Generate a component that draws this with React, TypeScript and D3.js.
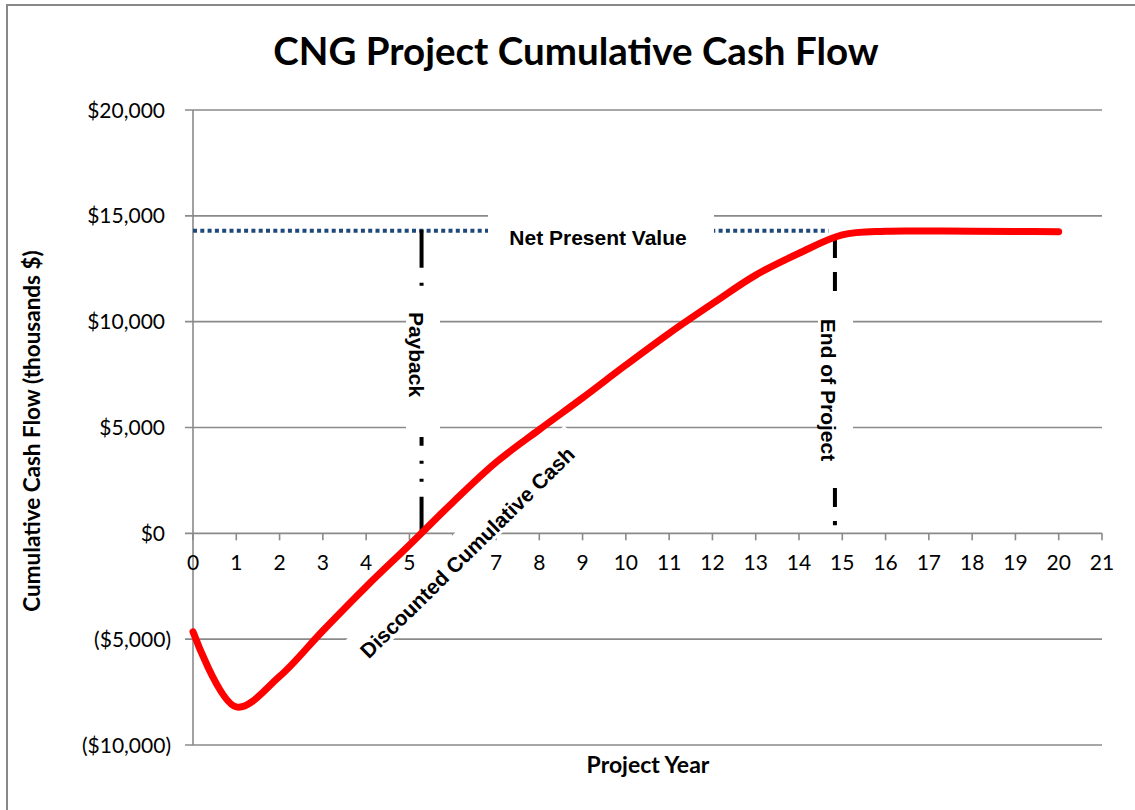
import React from "react";
import * as d3 from "d3";

const years: number[] = d3.range(0, 21);
const cumulativeCash: number[] = [
  -4650, -8200, -6760, -4600, -2520, -550, 1460, 3350, 4900, 6400, 7950,
  9450, 10850, 12200, 13230, 14100, 14270, 14280, 14270, 14260, 14250,
];
const yTicks: number[] = [-10000, -5000, 0, 5000, 10000, 15000, 20000];
const xTicks: number[] = d3.range(0, 22);
const npvValue = 14300;
const npvEndYear = 14.68;
const paybackYear = 5.28;
const endOfProjectYear = 14.83;
const endLineTopValue = 13900;

const title = "CNG Project Cumulative Cash Flow";
const yTitle = "Cumulative Cash Flow (thousands $)";
const xTitle = "Project Year";
const labelNPV = "Net Present Value";
const labelPayback = "Payback";
const labelEnd = "End of Project";
const labelCurve = "Discounted Cumulative Cash";

const W = 1135;
const H = 810;
const CAL = "Lato, 'Open Sans', sans-serif";
const ARI = "'Liberation Sans', Arial, sans-serif";
const GRID = "#8a8a8a";

function fmt(v: number): string {
  const s = "$" + d3.format(",")(Math.abs(v));
  return v < 0 ? `(${s})` : s;
}

export default function App() {
  const x = d3.scaleLinear().domain([0, 21]).range([193, 1102]);
  const y = d3.scaleLinear().domain([-10000, 20000]).range([745, 110]);
  const line = d3
    .line<number>()
    .x((_, i) => x(years[i]))
    .y((d) => y(d))
    .curve(d3.curveCatmullRom.alpha(0.5));

  const y0 = y(0);
  const angle = -44.5;
  const bandCx = 463;
  const bandCy = 548;

  return (
    <svg
      width={W}
      height={H}
      style={{ position: "absolute", left: 0, top: 0, background: "#fff" }}
    >
      <rect x={0} y={0} width={W} height={H} fill="#fff" />
      <rect x={7} y={5} width={W + 20} height={H + 20} fill="none" stroke="#888" strokeWidth={2} />

      <text x={576} y={65} textAnchor="middle" fontFamily={CAL} fontWeight="bold" fontSize={38.5} fill="#000">
        {title}
      </text>

      {yTicks.map((t) => (
        <line key={"g" + t} x1={185} x2={x(21)} y1={y(t)} y2={y(t)} stroke={GRID} strokeWidth={1.6} />
      ))}
      <line x1={x(0)} x2={x(0)} y1={y(20000)} y2={y(-10000)} stroke={GRID} strokeWidth={1.6} />
      {xTicks.map((t) => (
        <line key={"xt" + t} x1={x(t)} x2={x(t)} y1={y0} y2={y0 + 7} stroke={GRID} strokeWidth={1.6} />
      ))}
      {yTicks.map((t) => (
        <text
          key={"yl" + t}
          x={t < 0 ? 171 : 165}
          y={y(t) + 7.5}
          textAnchor="end"
          fontFamily={CAL}
          fontSize={21}
          fill="#000"
        >
          {fmt(t)}
        </text>
      ))}
      {xTicks.map((t) => (
        <text key={"xl" + t} x={x(t)} y={y0 + 37} textAnchor="middle" fontFamily={CAL} fontSize={21} fill="#000">
          {t}
        </text>
      ))}

      <text
        transform={`translate(40, ${431}) rotate(-90)`}
        textAnchor="middle"
        fontFamily={CAL}
        fontWeight="bold"
        fontSize={22.5}
        fill="#000"
      >
        {yTitle}
      </text>
      <text x={648} y={773} textAnchor="middle" fontFamily={CAL} fontWeight="bold" fontSize={23} fill="#000">
        {xTitle}
      </text>

      <line
        x1={x(0)}
        x2={x(npvEndYear)}
        y1={y(npvValue)}
        y2={y(npvValue)}
        stroke="#1F497D"
        strokeWidth={4}
        strokeDasharray="4 3.3"
      />
      <line
        x1={x(paybackYear)}
        x2={x(paybackYear)}
        y1={y(npvValue) - 1}
        y2={y0}
        stroke="#000"
        strokeWidth={4}
        strokeDasharray="38 15 3 15 3 15"
      />
      <line
        x1={x(endOfProjectYear)}
        x2={x(endOfProjectYear)}
        y1={y(endLineTopValue)}
        y2={y0 - 8}
        stroke="#000"
        strokeWidth={4}
        strokeDasharray="19 14 19 14 3 14"
      />

      <rect x={488} y={207} width={226} height={54} fill="#fff" />
      <text x={598} y={245} textAnchor="middle" fontFamily={ARI} fontWeight="bold" fontSize={21} fill="#000">
        {labelNPV}
      </text>

      <rect x={406} y={290} width={34} height={147} fill="#fff" />
      <text
        transform={`translate(409, ${354.5}) rotate(90)`}
        textAnchor="middle"
        fontFamily={ARI}
        fontWeight="bold"
        fontSize={21}
        fill="#000"
      >
        {labelPayback}
      </text>

      <rect x={818} y={300} width={35} height={180} fill="#fff" />
      <text
        transform={`translate(821, ${390}) rotate(90)`}
        textAnchor="middle"
        fontFamily={ARI}
        fontWeight="bold"
        fontSize={21}
        fill="#000"
      >
        {labelEnd}
      </text>

      <g transform={`translate(${bandCx}, ${bandCy}) rotate(${angle})`}>
        <rect x={-158} y={-16.5} width={316} height={33} fill="#fff" />
        <text x={0} y={13.5} textAnchor="middle" fontFamily={ARI} fontWeight="bold" fontSize={21} fill="#000">
          {labelCurve}
        </text>
      </g>

      <path
        d={line(cumulativeCash) || ""}
        fill="none"
        stroke="#FF0000"
        strokeWidth={7}
        strokeLinecap="round"
        strokeLinejoin="round"
      />
    </svg>
  );
}
